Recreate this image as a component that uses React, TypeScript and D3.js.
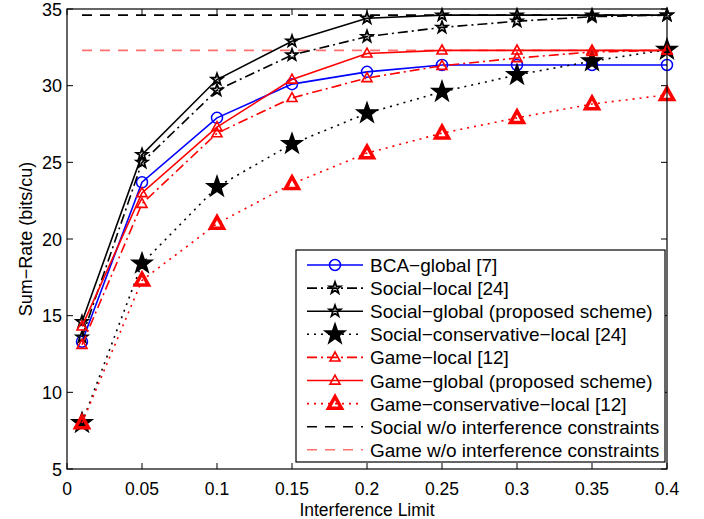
import React from "react";
import * as d3 from "d3";

const xValues = [0.01, 0.05, 0.1, 0.15, 0.2, 0.25, 0.3, 0.35, 0.4];
const bcaGlobal = [13.3, 23.7, 27.9, 30.1, 30.9, 31.35, 31.35, 31.35, 31.35];
const socialLocal = [13.6, 25.0, 29.7, 32.0, 33.2, 33.8, 34.2, 34.5, 34.6];
const socialGlobal = [14.6, 25.5, 30.4, 32.9, 34.4, 34.6, 34.6, 34.6, 34.6];
const socialConservative = [8.0, 18.4, 23.4, 26.2, 28.2, 29.6, 30.7, 31.6, 32.35];
const gameLocal = [13.1, 22.3, 26.9, 29.2, 30.5, 31.3, 31.8, 32.2, 32.3];
const gameGlobal = [14.3, 23.0, 27.3, 30.4, 32.1, 32.3, 32.3, 32.3, 32.3];
const gameConservative = [8.0, 17.3, 21.0, 23.6, 25.6, 26.9, 27.9, 28.8, 29.4];
const socialNoConstraint = 34.6;
const gameNoConstraint = 32.3;

const xTicks = [0, 0.05, 0.1, 0.15, 0.2, 0.25, 0.3, 0.35, 0.4];
const yTicks = [5, 10, 15, 20, 25, 30, 35];

const legendLabels = [
  "BCA\u2212global [7]",
  "Social\u2212local [24]",
  "Social\u2212global (proposed scheme)",
  "Social\u2212conservative\u2212local [24]",
  "Game\u2212local [12]",
  "Game\u2212global (proposed scheme)",
  "Game\u2212conservative\u2212local [12]",
  "Social w/o interference constraints",
  "Game w/o interference constraints",
];

type Marker = "circle" | "star" | "bigstar" | "tri" | "bigtri" | "none";
interface Series {
  values: number[];
  color: string;
  dash: string | null;
  marker: Marker;
}

const DASHDOT = "10,4,2,4";
const DOTTED = "2,5";
const DASHED = "10,8";

const seriesList: Series[] = [
  { values: bcaGlobal, color: "#0000ff", dash: null, marker: "circle" },
  { values: socialLocal, color: "#000000", dash: DASHDOT, marker: "star" },
  { values: socialGlobal, color: "#000000", dash: null, marker: "star" },
  { values: socialConservative, color: "#000000", dash: DOTTED, marker: "bigstar" },
  { values: gameLocal, color: "#ff0000", dash: DASHDOT, marker: "tri" },
  { values: gameGlobal, color: "#ff0000", dash: null, marker: "tri" },
  { values: gameConservative, color: "#ff0000", dash: DOTTED, marker: "bigtri" },
];

const refLines = [
  { value: socialNoConstraint, color: "#000000" },
  { value: gameNoConstraint, color: "#ff7070" },
];

const FONT = "'Liberation Sans', Arial, Helvetica, sans-serif";

function starPath(R: number) {
  const r = R * 0.4;
  const pts: string[] = [];
  for (let i = 0; i < 10; i++) {
    const a = -Math.PI / 2 + (i * Math.PI) / 5;
    const rr = i % 2 === 0 ? R : r;
    pts.push(`${(rr * Math.cos(a)).toFixed(2)},${(rr * Math.sin(a)).toFixed(2)}`);
  }
  return "M" + pts.join("L") + "Z";
}

function triPath(s: number) {
  const h = s * 0.9;
  return `M0,${(-h * 0.6).toFixed(2)}L${(s / 2).toFixed(2)},${(h * 0.4).toFixed(2)}L${(-s / 2).toFixed(2)},${(h * 0.4).toFixed(2)}Z`;
}

function MarkerShape({ m, x, y, color }: { m: Marker; x: number; y: number; color: string }) {
  if (m === "circle")
    return <circle cx={x} cy={y} r={5.5} fill="none" stroke={color} strokeWidth={1.5} />;
  if (m === "star")
    return <path d={starPath(6)} transform={`translate(${x},${y})`} fill="none" stroke={color} strokeWidth={1.8} strokeLinejoin="miter" />;
  if (m === "bigstar")
    return <path d={starPath(10.5)} transform={`translate(${x},${y})`} fill={color} stroke={color} strokeWidth={1.5} />;
  if (m === "tri")
    return <path d={triPath(10)} transform={`translate(${x},${y})`} fill="none" stroke={color} strokeWidth={1.6} />;
  if (m === "bigtri")
    return <path d={triPath(13)} transform={`translate(${x},${y})`} fill="none" stroke={color} strokeWidth={3.5} strokeLinejoin="miter" />;
  return null;
}

export default function App() {
  const left = 67, right = 667, top = 9, bottom = 469;
  const x = d3.scaleLinear().domain([0, 0.4]).range([left, right]);
  const y = d3.scaleLinear().domain([5, 35]).range([bottom, top]);
  const line = d3
    .line<[number, number]>()
    .x((d) => x(d[0]))
    .y((d) => y(d[1]));

  const legX = 296, legY = 250, legW = 369, legH = 212;
  const rowY0 = 265, rowStep = 23.1;
  const sx0 = 307, sx1 = 363, tx = 370;

  const legendItems = [
    ...seriesList.map((s) => ({ color: s.color, dash: s.dash, marker: s.marker })),
    ...refLines.map((r) => ({ color: r.color, dash: DASHED, marker: "none" as Marker })),
  ];

  return (
    <svg
      width={704}
      height={519}
      style={{ position: "absolute", left: 0, top: 0, background: "#fff" }}
      fontFamily={FONT}
    >
      <rect x={0} y={0} width={704} height={519} fill="#fff" />
      {refLines.map((r, i) => (
        <path
          key={"ref" + i}
          d={line([[xValues[0], r.value], [xValues[xValues.length - 1], r.value]]) || ""}
          fill="none"
          stroke={r.color}
          strokeWidth={1.6}
          strokeDasharray={DASHED}
        />
      ))}
      {seriesList.map((s, i) => (
        <g key={"s" + i}>
          <path
            d={line(xValues.map((xv, j) => [xv, s.values[j]] as [number, number])) || ""}
            fill="none"
            stroke={s.color}
            strokeWidth={1.6}
            strokeDasharray={s.dash || undefined}
          />
          {xValues.map((xv, j) => (
            <MarkerShape key={j} m={s.marker} x={x(xv)} y={y(s.values[j])} color={s.color} />
          ))}
        </g>
      ))}
      <rect x={left} y={top} width={right - left} height={bottom - top} fill="none" stroke="#000" strokeWidth={1.2} />
      {xTicks.map((t, i) => (
        <g key={"xt" + i}>
          <line x1={x(t)} x2={x(t)} y1={bottom} y2={bottom - 6} stroke="#000" />
          <line x1={x(t)} x2={x(t)} y1={top} y2={top + 6} stroke="#000" />
          <text x={x(t)} y={495} textAnchor="middle" fontSize={17.5}>
            {String(t)}
          </text>
        </g>
      ))}
      {yTicks.map((t, i) => (
        <g key={"yt" + i}>
          <line x1={left} x2={left + 6} y1={y(t)} y2={y(t)} stroke="#000" />
          <line x1={right} x2={right - 6} y1={y(t)} y2={y(t)} stroke="#000" />
          <text x={left - 5} y={y(t) + 6.5} textAnchor="end" fontSize={18}>
            {String(t)}
          </text>
        </g>
      ))}
      <text x={(left + right) / 2} y={516} textAnchor="middle" fontSize={17.5}>
        Interference Limit
      </text>
      <text
        transform={`translate(32,${(top + bottom) / 2}) rotate(-90)`}
        textAnchor="middle"
        fontSize={18}
      >
        Sum{"\u2212"}Rate (bits/cu)
      </text>
      <rect x={legX} y={legY} width={legW} height={legH} fill="#fff" stroke="#000" strokeWidth={1.2} />
      {legendItems.map((it, i) => {
        const ry = rowY0 + i * rowStep;
        return (
          <g key={"lg" + i}>
            <line
              x1={sx0}
              x2={sx1}
              y1={ry}
              y2={ry}
              stroke={it.color}
              strokeWidth={1.6}
              strokeDasharray={it.dash || undefined}
            />
            <MarkerShape m={it.marker} x={(sx0 + sx1) / 2} y={ry} color={it.color} />
            <text x={tx} y={ry + 7} fontSize={19}>
              {legendLabels[i]}
            </text>
          </g>
        );
      })}
    </svg>
  );
}
